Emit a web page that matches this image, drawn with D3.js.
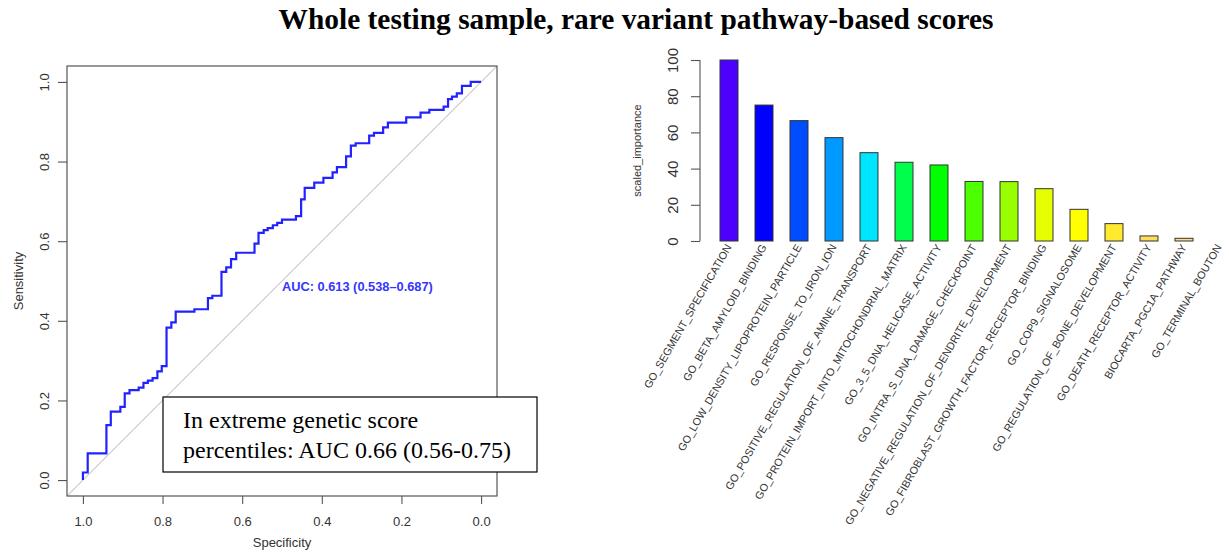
<!DOCTYPE html>
<html>
<head>
<meta charset="utf-8">
<script src="https://cdn.jsdelivr.net/npm/d3@7"></script>
<style>
  html, body { margin: 0; padding: 0; background: #fff; }
  svg { display: block; }
</style>
</head>
<body>
<svg id="chart" width="1229" height="555"></svg>
<script>
// ---------- DATA ----------
const chartTitle = "Whole testing sample, rare variant pathway-based scores";

// ROC curve vertices (specificity, sensitivity), drawn as steps
const rocSpecificity = [1.000, 0.988, 0.941, 0.930, 0.906, 0.895, 0.883, 0.860, 0.848, 0.837,
  0.825, 0.813, 0.802, 0.790, 0.778, 0.767, 0.720, 0.686, 0.675, 0.652,
  0.640, 0.628, 0.615, 0.569, 0.559, 0.546, 0.536, 0.523, 0.512, 0.500,
  0.465, 0.452, 0.443, 0.419, 0.396, 0.373, 0.362, 0.339, 0.327, 0.315,
  0.281, 0.269, 0.246, 0.234, 0.188, 0.152, 0.130, 0.094, 0.083, 0.073,
  0.061, 0.048, 0.026, 0.000];
const rocSensitivity = [0.000, 0.019, 0.067, 0.138, 0.172, 0.184, 0.218, 0.226, 0.232, 0.244,
  0.250, 0.256, 0.273, 0.286, 0.383, 0.396, 0.423, 0.429, 0.457, 0.463,
  0.523, 0.534, 0.555, 0.571, 0.594, 0.621, 0.628, 0.633, 0.640, 0.646,
  0.654, 0.663, 0.705, 0.734, 0.747, 0.759, 0.773, 0.786, 0.813, 0.840,
  0.846, 0.865, 0.872, 0.886, 0.898, 0.911, 0.923, 0.930, 0.938, 0.957,
  0.963, 0.971, 0.990, 1.000];
const rocTicks = [0, 0.2, 0.4, 0.6, 0.8, 1.0];
const aucLabel = "AUC: 0.613 (0.538\u20130.687)";
const aucLabelPos = [0.5, 0.5];   // specificity, sensitivity
const boxLines = ["In extreme genetic score", "percentiles: AUC 0.66 (0.56-0.75)"];

// Variable importance bar chart
const pathways = [
  "GO_SEGMENT_SPECIFICATION",
  "GO_BETA_AMYLOID_BINDING",
  "GO_LOW_DENSITY_LIPOPROTEIN_PARTICLE",
  "GO_RESPONSE_TO_IRON_ION",
  "GO_POSITIVE_REGULATION_OF_AMINE_TRANSPORT",
  "GO_PROTEIN_IMPORT_INTO_MITOCHONDRIAL_MATRIX",
  "GO_3_5_DNA_HELICASE_ACTIVITY",
  "GO_INTRA_S_DNA_DAMAGE_CHECKPOINT",
  "GO_NEGATIVE_REGULATION_OF_DENDRITE_DEVELOPMENT",
  "GO_FIBROBLAST_GROWTH_FACTOR_RECEPTOR_BINDING",
  "GO_COP9_SIGNALOSOME",
  "GO_REGULATION_OF_BONE_DEVELOPMENT",
  "GO_DEATH_RECEPTOR_ACTIVITY",
  "BIOCARTA_PGC1A_PATHWAY",
  "GO_TERMINAL_BOUTON"
];
const importance = [100, 75.1, 66.5, 57.1, 48.8, 43.5, 42.0, 32.9, 32.8, 28.9, 17.5, 9.6, 2.8, 1.5, 0];
const importanceTicks = [0, 20, 40, 60, 80, 100];
const barColors = ["#4C00FF", "#0000FF", "#004CFF", "#0099FF", "#00E5FF",
  "#00FF4D", "#00FF00", "#4DFF00", "#99FF00", "#E6FF00",
  "#FFFF00", "#FFEA2D", "#FFDE59", "#FFDB86", "#FFE0B3"];

// ---------- DRAW ----------
const svg = d3.select("#chart");
const sans = "'Liberation Sans', Arial, Helvetica, sans-serif";
const serif = "'Liberation Serif', 'Times New Roman', serif";

svg.append("text")
  .attr("x", 636).attr("y", 29)
  .attr("text-anchor", "middle")
  .style("font-family", serif).style("font-weight", "bold").style("font-size", "29.4px")
  .text(chartTitle);

// ----- ROC panel -----
const roc = { left: 67, right: 497, top: 66, bottom: 496 };
const xR = d3.scaleLinear().domain([1.04, -0.04]).range([roc.left, roc.right]);
const yR = d3.scaleLinear().domain([-0.04, 1.04]).range([roc.bottom, roc.top]);

const rocG = svg.append("g");
rocG.append("clipPath").attr("id", "rocClip")
  .append("rect").attr("x", roc.left).attr("y", roc.top)
  .attr("width", roc.right - roc.left).attr("height", roc.bottom - roc.top);

// diagonal reference
rocG.append("line")
  .attr("clip-path", "url(#rocClip)")
  .attr("x1", xR(1.04)).attr("y1", yR(-0.04))
  .attr("x2", xR(-0.04)).attr("y2", yR(1.04))
  .attr("stroke", "#c8c8c8").attr("stroke-width", 1.1);

// ROC step curve
const rocPts = rocSpecificity.map((s, i) => [s, rocSensitivity[i]]);
rocG.append("path")
  .datum(rocPts)
  .attr("fill", "none")
  .attr("stroke", "#2222ff")
  .attr("stroke-width", 2.2)
  .attr("d", d3.line().x(d => xR(d[0])).y(d => yR(d[1])).curve(d3.curveStepBefore));

// box
rocG.append("rect")
  .attr("x", roc.left).attr("y", roc.top)
  .attr("width", roc.right - roc.left).attr("height", roc.bottom - roc.top)
  .attr("fill", "none").attr("stroke", "#555").attr("stroke-width", 1.2);

// axes
const fmt1 = d3.format(".1f");
const yAxisR = rocG.append("g")
  .attr("transform", `translate(${roc.left},0)`)
  .call(d3.axisLeft(yR).tickValues(rocTicks).tickFormat(fmt1).tickSize(9).tickSizeOuter(0));
yAxisR.select(".domain").remove();
yAxisR.selectAll(".tick line").attr("stroke", "#555").attr("stroke-width", 1.1);
yAxisR.selectAll(".tick text")
  .attr("transform", "rotate(-90)")
  .attr("text-anchor", "middle")
  .attr("x", 0).attr("y", -18).attr("dy", null)
  .style("font-family", sans).style("font-size", "13px").attr("fill", "#333");

const xAxisR = rocG.append("g")
  .attr("transform", `translate(0,${roc.bottom})`)
  .call(d3.axisBottom(xR).tickValues(rocTicks).tickFormat(fmt1).tickSize(8).tickSizeOuter(0));
xAxisR.select(".domain").remove();
xAxisR.selectAll(".tick line").attr("stroke", "#555").attr("stroke-width", 1.1);
xAxisR.selectAll(".tick text")
  .attr("y", 30).attr("dy", null)
  .style("font-family", sans).style("font-size", "13px").attr("fill", "#333");

rocG.append("text")
  .attr("transform", `translate(23,${(roc.top + roc.bottom) / 2}) rotate(-90)`)
  .attr("text-anchor", "middle")
  .style("font-family", sans).style("font-size", "13px").attr("fill", "#333")
  .text("Sensitivity");
rocG.append("text")
  .attr("x", (roc.left + roc.right) / 2).attr("y", 547)
  .attr("text-anchor", "middle")
  .style("font-family", sans).style("font-size", "13px").attr("fill", "#333")
  .text("Specificity");

rocG.append("text")
  .attr("x", xR(aucLabelPos[0])).attr("y", yR(aucLabelPos[1]) + 10)
  .style("font-family", sans).style("font-size", "12.8px").style("font-weight", "bold")
  .attr("fill", "#3535ff")
  .text(aucLabel);

// annotation box
rocG.append("rect")
  .attr("x", 163).attr("y", 397).attr("width", 374).attr("height", 75)
  .attr("fill", "#fff").attr("stroke", "#000").attr("stroke-width", 1.2);
rocG.selectAll("text.boxline").data(boxLines).join("text")
  .attr("class", "boxline")
  .attr("x", 183).attr("y", (d, i) => 428 + i * 30)
  .style("font-family", serif).style("font-size", "24px").attr("fill", "#000")
  .text(d => d);

// ----- Bar panel -----
const xB = d3.scaleBand().domain(pathways).range([711.5, 1236.5])
  .paddingInner(0.486).paddingOuter(0.243);
const yB = d3.scaleLinear().domain([0, 100]).range([241, 60]);

const barG = svg.append("g");
barG.selectAll("rect.bar").data(pathways).join("rect")
  .attr("class", "bar")
  .attr("x", d => xB(d))
  .attr("y", (d, i) => yB(importance[i]))
  .attr("width", xB.bandwidth())
  .attr("height", (d, i) => yB(0) - yB(importance[i]))
  .attr("fill", (d, i) => barColors[i])
  .attr("stroke", "#333").attr("stroke-width", 1);

const yAxisB = barG.append("g")
  .attr("transform", "translate(700,0)")
  .call(d3.axisLeft(yB).tickValues(importanceTicks).tickSize(9).tickSizeOuter(0));
yAxisB.select(".domain").remove();
yAxisB.append("line")
  .attr("x1", 0).attr("x2", 0).attr("y1", yB(0)).attr("y2", yB(100))
  .attr("stroke", "#555").attr("stroke-width", 1.1);
yAxisB.selectAll(".tick line").attr("stroke", "#555").attr("stroke-width", 1.1);
yAxisB.selectAll(".tick text")
  .attr("transform", "rotate(-90)")
  .attr("text-anchor", "middle")
  .attr("x", 0).attr("y", -22).attr("dy", null)
  .style("font-family", sans).style("font-size", "15px").attr("fill", "#333");

barG.append("text")
  .attr("transform", `translate(641,${(yB(0) + yB(100)) / 2}) rotate(-90)`)
  .attr("text-anchor", "middle")
  .style("font-family", sans).style("font-size", "11px").attr("fill", "#333")
  .text("scaled_importance");

barG.selectAll("text.lab").data(pathways).join("text")
  .attr("class", "lab")
  .attr("transform", d => `translate(${xB(d) + xB.bandwidth() / 2 + 3},${yB(0) + 6}) rotate(-60)`)
  .attr("text-anchor", "end")
  .style("font-family", sans).style("font-size", "10.8px").attr("fill", "#333")
  .text(d => d);
</script>
</body>
</html>
